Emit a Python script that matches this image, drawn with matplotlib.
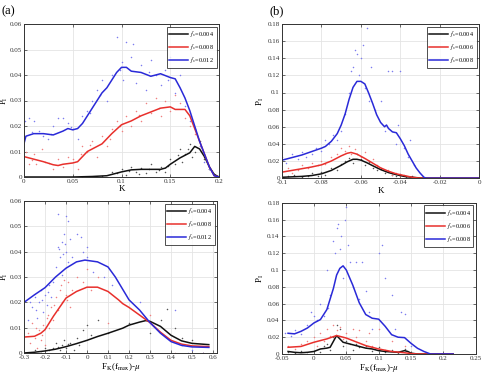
import matplotlib
matplotlib.use("Agg")
import matplotlib.pyplot as plt

plt.rcParams['font.family'] = ['Liberation Serif', 'DejaVu Serif']
plt.rcParams['mathtext.fontset'] = 'stix'

# ---------------- Panel (a) ----------------
a_labels = ['0.004', '0.008', '0.012']
a_k_x = [0, 0.05, 0.07, 0.085, 0.09, 0.1, 0.11, 0.12, 0.13, 0.14, 0.145, 0.15, 0.16, 0.17, 0.175, 0.18, 0.185, 0.19, 0.195, 0.2]
a_k_y = [0, 0, 0.0002, 0.0005, 0.001, 0.002, 0.0028, 0.003, 0.003, 0.003, 0.0035, 0.005, 0.0075, 0.0095, 0.012, 0.011, 0.008, 0.004, 0.001, 0]
a_r_x = [0, 0.005, 0.01, 0.02, 0.03, 0.035, 0.04, 0.05, 0.055, 0.06, 0.065, 0.07, 0.08, 0.09, 0.1, 0.11, 0.12, 0.13, 0.14, 0.15, 0.155, 0.16, 0.165, 0.17, 0.175, 0.18, 0.185, 0.19, 0.195, 0.2]
a_r_y = [0.008, 0.0075, 0.007, 0.006, 0.0048, 0.0045, 0.005, 0.0055, 0.006, 0.008, 0.010, 0.011, 0.013, 0.017, 0.0205, 0.022, 0.024, 0.0255, 0.027, 0.0275, 0.0265, 0.0265, 0.0265, 0.024, 0.019, 0.014, 0.009, 0.004, 0.0005, 0]
a_b_x = [0, 0.002, 0.01, 0.02, 0.03, 0.04, 0.045, 0.05, 0.055, 0.06, 0.065, 0.07, 0.075, 0.08, 0.085, 0.09, 0.095, 0.1, 0.105, 0.11, 0.12, 0.13, 0.14, 0.15, 0.155, 0.16, 0.165, 0.17, 0.175, 0.18, 0.185, 0.19, 0.195, 0.2]
a_b_y = [0.013, 0.016, 0.017, 0.017, 0.0165, 0.018, 0.019, 0.0185, 0.019, 0.021, 0.024, 0.027, 0.030, 0.033, 0.035, 0.038, 0.041, 0.043, 0.043, 0.0415, 0.041, 0.0395, 0.0405, 0.039, 0.0385, 0.035, 0.031, 0.026, 0.020, 0.014, 0.009, 0.004, 0.0005, 0]
a_ks_x = [0.06, 0.08, 0.09, 0.095, 0.1, 0.105, 0.11, 0.115, 0.12, 0.125, 0.13, 0.135, 0.14, 0.145, 0.15, 0.155, 0.16, 0.162, 0.165, 0.17, 0.172, 0.175, 0.18, 0.185, 0.19, 0.195, 0.108, 0.118, 0.128, 0.138, 0.148, 0.158, 0.168]
a_ks_y = [0.0, 0.0005, 0.002, 0.0015, 0.003, 0.0008, 0.004, 0.002, 0.0035, 0.0015, 0.005, 0.002, 0.004, 0.002, 0.007, 0.005, 0.011, 0.006, 0.009, 0.013, 0.008, 0.010, 0.014, 0.007, 0.003, 0.001, 0.0025, 0.001, 0.0032, 0.0028, 0.0045, 0.0085, 0.011]
a_rs_x = [0.002, 0.005, 0.01, 0.012, 0.018, 0.022, 0.03, 0.035, 0.04, 0.045, 0.05, 0.055, 0.06, 0.065, 0.07, 0.075, 0.08, 0.085, 0.09, 0.095, 0.1, 0.105, 0.11, 0.115, 0.12, 0.125, 0.13, 0.135, 0.14, 0.145, 0.15, 0.155, 0.16, 0.165, 0.17, 0.175, 0.18, 0.185, 0.19, 0.008, 0.026, 0.058, 0.068, 0.088, 0.098, 0.118, 0.138]
a_rs_y = [0.010, 0.005, 0.009, 0.005, 0.011, 0.006, 0.003, 0.007, 0.004, 0.008, 0.007, 0.003, 0.012, 0.010, 0.014, 0.008, 0.016, 0.012, 0.019, 0.022, 0.018, 0.024, 0.020, 0.026, 0.022, 0.029, 0.025, 0.031, 0.024, 0.030, 0.026, 0.032, 0.029, 0.023, 0.020, 0.017, 0.012, 0.008, 0.004, 0.0065, 0.0055, 0.009, 0.0125, 0.015, 0.020, 0.0245, 0.027]
a_bs_x = [0.001, 0.005, 0.01, 0.015, 0.02, 0.025, 0.03, 0.035, 0.04, 0.045, 0.05, 0.055, 0.06, 0.065, 0.07, 0.075, 0.08, 0.085, 0.09, 0.095, 0.1, 0.102, 0.105, 0.11, 0.112, 0.115, 0.12, 0.125, 0.13, 0.135, 0.14, 0.145, 0.15, 0.155, 0.16, 0.165, 0.17, 0.175, 0.18, 0.185, 0.19, 0.195, 0.198, 0.008, 0.028, 0.048, 0.068, 0.078, 0.098, 0.128, 0.148]
a_bs_y = [0.022, 0.023, 0.022, 0.018, 0.016, 0.015, 0.020, 0.023, 0.023, 0.021, 0.019, 0.015, 0.024, 0.026, 0.030, 0.034, 0.038, 0.030, 0.040, 0.055, 0.045, 0.038, 0.053, 0.047, 0.052, 0.037, 0.044, 0.034, 0.046, 0.040, 0.036, 0.042, 0.047, 0.033, 0.040, 0.028, 0.022, 0.019, 0.012, 0.006, 0.003, 0.001, 0.0, 0.0175, 0.017, 0.0195, 0.025, 0.032, 0.042, 0.041, 0.038]

# ---------------- Panel (b) ----------------
b_labels = ['0.004', '0.006', '0.008']
b_k_x = [-0.1, -0.09, -0.085, -0.08, -0.075, -0.07, -0.067, -0.064, -0.062, -0.06, -0.057, -0.054, -0.05, -0.046, -0.042, -0.038, -0.034, -0.03, -0.028, 0]
b_k_y = [0.001, 0.002, 0.003, 0.005, 0.009, 0.015, 0.019, 0.022, 0.022, 0.021, 0.018, 0.0145, 0.010, 0.0065, 0.004, 0.002, 0.001, 0.0002, 0, 0]
b_r_x = [-0.1, -0.095, -0.09, -0.085, -0.08, -0.075, -0.07, -0.067, -0.065, -0.062, -0.058, -0.054, -0.05, -0.046, -0.042, -0.038, -0.034, -0.031, -0.028, 0]
b_r_y = [0.007, 0.009, 0.011, 0.013, 0.0155, 0.020, 0.026, 0.029, 0.030, 0.028, 0.023, 0.0175, 0.012, 0.008, 0.005, 0.003, 0.001, 0.0002, 0, 0]
b_b_x = [-0.1, -0.095, -0.09, -0.085, -0.08, -0.078, -0.075, -0.072, -0.07, -0.068, -0.066, -0.064, -0.062, -0.06, -0.058, -0.056, -0.054, -0.052, -0.05, -0.048, -0.047, -0.046, -0.044, -0.042, -0.04, -0.038, -0.036, -0.034, -0.032, -0.03, -0.028, -0.027, 0]
b_b_y = [0.021, 0.024, 0.027, 0.031, 0.035, 0.037, 0.043, 0.052, 0.062, 0.075, 0.092, 0.106, 0.113, 0.113, 0.110, 0.099, 0.087, 0.074, 0.065, 0.060, 0.062, 0.058, 0.054, 0.053, 0.046, 0.038, 0.028, 0.020, 0.012, 0.006, 0.001, 0, 0]
b_ks_x = [-0.1, -0.097, -0.094, -0.09, -0.087, -0.085, -0.082, -0.08, -0.078, -0.075, -0.072, -0.07, -0.068, -0.066, -0.064, -0.062, -0.06, -0.058, -0.056, -0.054, -0.052, -0.05, -0.048, -0.046, -0.044, -0.042, -0.04, -0.037, -0.034]
b_ks_y = [0.0, 0.002, 0.004, 0.001, 0.003, 0.006, 0.002, 0.007, 0.004, 0.012, 0.009, 0.016, 0.020, 0.024, 0.018, 0.028, 0.022, 0.015, 0.019, 0.012, 0.009, 0.011, 0.006, 0.008, 0.004, 0.003, 0.005, 0.001, 0.002]
b_rs_x = [-0.1, -0.097, -0.095, -0.092, -0.09, -0.087, -0.085, -0.082, -0.08, -0.078, -0.075, -0.072, -0.07, -0.068, -0.066, -0.065, -0.063, -0.06, -0.058, -0.056, -0.054, -0.052, -0.05, -0.048, -0.046, -0.044, -0.042, -0.04, -0.038, -0.035]
b_rs_y = [0.008, 0.012, 0.006, 0.010, 0.015, 0.012, 0.018, 0.015, 0.020, 0.017, 0.025, 0.028, 0.035, 0.032, 0.038, 0.028, 0.034, 0.025, 0.030, 0.020, 0.022, 0.015, 0.012, 0.008, 0.010, 0.004, 0.006, 0.002, 0.004, 0.001]
b_bs_x = [-0.1, -0.098, -0.095, -0.092, -0.09, -0.088, -0.085, -0.083, -0.08, -0.078, -0.076, -0.074, -0.072, -0.07, -0.068, -0.066, -0.065, -0.064, -0.063, -0.062, -0.061, -0.06, -0.059, -0.058, -0.057, -0.056, -0.055, -0.053, -0.05, -0.048, -0.046, -0.044, -0.042, -0.041, -0.04, -0.038, -0.036, -0.035, -0.033]
b_bs_y = [0.025, 0.018, 0.028, 0.022, 0.030, 0.025, 0.028, 0.035, 0.032, 0.045, 0.040, 0.050, 0.045, 0.055, 0.075, 0.100, 0.125, 0.130, 0.150, 0.145, 0.120, 0.140, 0.155, 0.105, 0.175, 0.090, 0.130, 0.080, 0.090, 0.055, 0.125, 0.125, 0.040, 0.062, 0.125, 0.035, 0.025, 0.045, 0.015]

# ---------------- Panel (c) ----------------
c_k_x = [-0.3, -0.25, -0.2, -0.15, -0.1, -0.05, 0, 0.05, 0.1, 0.17, 0.2, 0.25, 0.28, 0.3, 0.35, 0.4, 0.45, 0.5, 0.58]
c_k_y = [0, 0.0003, 0.0008, 0.0015, 0.0025, 0.0037, 0.005, 0.0065, 0.0078, 0.0098, 0.011, 0.0122, 0.0128, 0.0125, 0.0105, 0.007, 0.0048, 0.0038, 0.0033]
c_r_x = [-0.3, -0.25, -0.22, -0.2, -0.16, -0.1, -0.05, 0, 0.05, 0.1, 0.15, 0.17, 0.2, 0.25, 0.3, 0.35, 0.4, 0.45, 0.5, 0.58]
c_r_y = [0.0063, 0.0066, 0.0078, 0.0092, 0.0145, 0.0217, 0.0243, 0.026, 0.026, 0.0243, 0.021, 0.0195, 0.018, 0.015, 0.012, 0.0082, 0.005, 0.0035, 0.0028, 0.0025]
c_b_x = [-0.3, -0.25, -0.2, -0.15, -0.1, -0.05, -0.01, 0.05, 0.1, 0.135, 0.2, 0.25, 0.3, 0.35, 0.4, 0.45, 0.5, 0.58]
c_b_y = [0.020, 0.023, 0.0258, 0.030, 0.0335, 0.036, 0.0367, 0.036, 0.034, 0.030, 0.021, 0.017, 0.012, 0.0078, 0.0045, 0.003, 0.0024, 0.0022]
c_ks_x = [-0.27, -0.25, -0.22, -0.2, -0.18, -0.16, -0.15, -0.13, -0.12, -0.11, -0.1, -0.08, -0.05, -0.02, 0.0, 0.02, 0.05, 0.1, 0.2, 0.3, 0.35, 0.38, 0.42, 0.45, 0.5, 0.55, -0.14, -0.09, -0.06, -0.04]
c_ks_y = [0.0, 0.001, 0.0, 0.002, 0.001, 0.002, 0.004, 0.001, 0.003, 0.005, 0.002, 0.004, 0.006, 0.009, 0.011, 0.007, 0.013, 0.008, 0.012, 0.008, 0.013, 0.0175, 0.010, 0.006, 0.005, 0.0, 0.0025, 0.0035, 0.001, 0.003]
c_rs_x = [-0.28, -0.27, -0.26, -0.25, -0.24, -0.23, -0.22, -0.21, -0.2, -0.19, -0.18, -0.17, -0.16, -0.15, -0.14, -0.13, -0.12, -0.11, -0.1, -0.09, -0.08, -0.07, -0.05, -0.02, 0.0, 0.02, 0.05, 0.1, 0.3, 0.42, 0.55, -0.245, -0.215, -0.185, -0.155, -0.125, -0.095]
c_rs_y = [0.008, 0.004, 0.012, 0.006, 0.002, 0.009, 0.005, 0.011, 0.003, 0.014, 0.010, 0.018, 0.013, 0.022, 0.017, 0.025, 0.020, 0.029, 0.023, 0.028, 0.018, 0.025, 0.030, 0.028, 0.033, 0.025, 0.030, 0.012, 0.015, 0.0, 0.0, 0.010, 0.007, 0.015, 0.019, 0.027, 0.021]
c_bs_x = [-0.28, -0.27, -0.26, -0.25, -0.24, -0.23, -0.22, -0.21, -0.2, -0.19, -0.18, -0.17, -0.16, -0.15, -0.14, -0.14, -0.13, -0.12, -0.12, -0.11, -0.1, -0.1, -0.09, -0.09, -0.08, -0.07, -0.05, -0.03, -0.02, 0.0, 0.0, 0.03, 0.08, 0.12, 0.25, 0.42, 0.45, 0.48, 0.5, 0.55, -0.245, -0.215, -0.185, -0.135, -0.115, -0.105]
c_bs_y = [0.013, 0.020, 0.018, 0.022, 0.014, 0.020, 0.025, 0.016, 0.023, 0.019, 0.027, 0.022, 0.028, 0.034, 0.042, 0.055, 0.038, 0.044, 0.031, 0.047, 0.040, 0.054, 0.052, 0.036, 0.045, 0.038, 0.047, 0.046, 0.040, 0.042, 0.038, 0.032, 0.030, 0.027, 0.020, 0.017, 0.003, 0.0, 0.001, 0.0, 0.017, 0.021, 0.024, 0.041, 0.039, 0.043]

# ---------------- Panel (d) ----------------
d_k_x = [-0.04, -0.03, -0.02, -0.01, 0, 0.01, 0.02, 0.025, 0.03, 0.035, 0.04, 0.045, 0.05, 0.06, 0.07, 0.08, 0.09, 0.1, 0.11, 0.12, 0.13, 0.14, 0.145, 0.15, 0.16, 0.215]
d_k_y = [0.003, 0.002, 0.0015, 0.002, 0.003, 0.006, 0.007, 0.008, 0.015, 0.022, 0.018, 0.014, 0.013, 0.011, 0.009, 0.007, 0.006, 0.004, 0.003, 0.0025, 0.002, 0.004, 0.003, 0.001, 0, 0]
d_r_x = [-0.04, -0.02, 0, 0.02, 0.035, 0.04, 0.05, 0.06, 0.08, 0.1, 0.12, 0.14, 0.15, 0.16, 0.215]
d_r_y = [0.008, 0.009, 0.014, 0.018, 0.022, 0.021, 0.019, 0.016, 0.010, 0.006, 0.003, 0.0015, 0.0005, 0, 0]
d_b_x = [-0.04, -0.03, -0.02, -0.01, 0, 0.01, 0.02, 0.03, 0.035, 0.04, 0.045, 0.05, 0.06, 0.07, 0.08, 0.09, 0.1, 0.11, 0.12, 0.13, 0.14, 0.15, 0.16, 0.17, 0.18, 0.215]
d_b_y = [0.0247, 0.024, 0.027, 0.031, 0.037, 0.041, 0.053, 0.078, 0.094, 0.102, 0.105, 0.100, 0.082, 0.061, 0.047, 0.0426, 0.0415, 0.033, 0.023, 0.020, 0.0195, 0.0127, 0.0068, 0.003, 0, 0]
d_ks_x = [-0.04, -0.03, -0.02, -0.01, 0.0, 0.01, 0.015, 0.02, 0.025, 0.03, 0.035, 0.04, 0.045, 0.05, 0.06, 0.065, 0.07, 0.08, 0.09, 0.1, 0.11, 0.12, 0.13, 0.14]
d_ks_y = [0.002, 0.001, 0.003, 0.0, 0.004, 0.002, 0.010, 0.012, 0.005, 0.020, 0.035, 0.030, 0.010, 0.015, 0.005, 0.012, 0.008, 0.010, 0.004, 0.008, 0.002, 0.005, 0.001, 0.006]
d_rs_x = [-0.04, -0.03, -0.02, -0.01, 0.0, 0.005, 0.01, 0.015, 0.02, 0.025, 0.03, 0.035, 0.04, 0.045, 0.05, 0.055, 0.06, 0.065, 0.07, 0.08, 0.085, 0.09, 0.1, 0.11, 0.12, 0.13, 0.14]
d_rs_y = [0.010, 0.006, 0.012, 0.015, 0.020, 0.010, 0.025, 0.015, 0.030, 0.022, 0.035, 0.028, 0.032, 0.018, 0.025, 0.012, 0.030, 0.020, 0.028, 0.015, 0.025, 0.010, 0.030, 0.005, 0.015, 0.002, 0.010]
d_bs_x = [-0.045, -0.035, -0.03, -0.02, -0.01, -0.005, 0.0, 0.005, 0.01, 0.015, 0.02, 0.022, 0.025, 0.03, 0.032, 0.035, 0.037, 0.04, 0.042, 0.045, 0.048, 0.05, 0.052, 0.055, 0.06, 0.065, 0.07, 0.075, 0.08, 0.085, 0.09, 0.1, 0.105, 0.11, 0.12, 0.125, 0.135, 0.14, 0.15, 0.2]
d_bs_y = [0.025, 0.022, 0.028, 0.024, 0.035, 0.050, 0.045, 0.040, 0.060, 0.045, 0.100, 0.055, 0.070, 0.135, 0.120, 0.150, 0.155, 0.125, 0.140, 0.090, 0.160, 0.175, 0.130, 0.110, 0.080, 0.110, 0.065, 0.110, 0.075, 0.050, 0.030, 0.120, 0.130, 0.090, 0.070, 0.030, 0.050, 0.048, 0.010, 0.0]

COL_K = '#111111'
COL_R = '#e8302c'
COL_B = '#2a2ad8'
SC_K = '#555555'
SC_R = '#f08080'
SC_B = '#7c7cf0'

fig = plt.figure(figsize=(4.83, 3.75), dpi=100)

def style(ax, xlim, ylim, xticks, yticks):
    ax.set_xlim(*xlim)
    ax.set_ylim(*ylim)
    ax.set_xticks(xticks)
    ax.set_yticks(yticks)
    ax.set_xticklabels(['%g' % v for v in xticks])
    ax.set_yticklabels(['%g' % v for v in yticks])
    ax.grid(True, color='#e4e4e4', linewidth=0.6)
    ax.set_axisbelow(True)
    ax.tick_params(direction='in', length=2, width=0.5, labelsize=5, pad=1.5,
                   top=True, right=True, colors='#333333')
    for s in ax.spines.values():
        s.set_linewidth(0.7)
        s.set_color('#333333')

def panel(rect, ks, rs, bs, kl, rl, bl, labels):
    ax = fig.add_axes(rect)
    ax.plot(ks[0], ks[1], 'o', ms=1.1, mew=0, color=SC_K)
    ax.plot(rs[0], rs[1], 'o', ms=1.1, mew=0, color=SC_R)
    ax.plot(bs[0], bs[1], 'o', ms=1.1, mew=0, color=SC_B)
    hk, = ax.plot(kl[0], kl[1], color=COL_K, lw=1.1)
    hr, = ax.plot(rl[0], rl[1], color=COL_R, lw=1.1)
    hb, = ax.plot(bl[0], bl[1], color=COL_B, lw=1.1)
    leg = ax.legend([hk, hr, hb], [r'$f_s$=' + l for l in labels], loc='upper right',
                    fontsize=4.5, frameon=True, fancybox=False, edgecolor='#222222',
                    handlelength=3.0, handletextpad=0.3, borderpad=0.4, labelspacing=0.5,
                    borderaxespad=0.4)
    leg.get_frame().set_linewidth(0.7)
    return ax

ylab = r'P$_\mathrm{I}$'
fxlab = r'F$_\mathrm{K}$(f$_\mathrm{max}$)-$\mu$'

ax_a = panel([0.0496, 0.528, 0.404, 0.408], (a_ks_x, a_ks_y), (a_rs_x, a_rs_y), (a_bs_x, a_bs_y),
             (a_k_x, a_k_y), (a_r_x, a_r_y), (a_b_x, a_b_y), a_labels)
style(ax_a, (0, 0.2), (0, 0.06), [0, 0.05, 0.1, 0.15, 0.2], [0, 0.01, 0.02, 0.03, 0.04, 0.05, 0.06])
ax_a.set_xlabel('K', fontsize=6.5, labelpad=1)
ax_a.set_ylabel(ylab, fontsize=6)
ax_a.yaxis.set_label_coords(-0.072, 0.5)

ax_b = panel([0.584, 0.525, 0.408, 0.411], (b_ks_x, b_ks_y), (b_rs_x, b_rs_y), (b_bs_x, b_bs_y),
             (b_k_x, b_k_y), (b_r_x, b_r_y), (b_b_x, b_b_y), b_labels)
style(ax_b, (-0.1, 0), (0, 0.18), [-0.1, -0.08, -0.06, -0.04, -0.02, 0],
      [0, 0.02, 0.04, 0.06, 0.08, 0.1, 0.12, 0.14, 0.16, 0.18])
ax_b.set_xlabel('K', fontsize=6.5, labelpad=1)
ax_b.set_ylabel(ylab, fontsize=6.5, labelpad=1)

ax_c = panel([0.0497, 0.0587, 0.4, 0.405], (c_ks_x, c_ks_y), (c_rs_x, c_rs_y), (c_bs_x, c_bs_y),
             (c_k_x, c_k_y), (c_r_x, c_r_y), (c_b_x, c_b_y), a_labels)
style(ax_c, (-0.3, 0.62), (0, 0.06), [-0.3, -0.2, -0.1, 0, 0.1, 0.2, 0.3, 0.4, 0.5, 0.6],
      [0, 0.01, 0.02, 0.03, 0.04, 0.05, 0.06])
ax_c.set_xlabel(fxlab, fontsize=6.5, labelpad=1)
ax_c.set_ylabel(ylab, fontsize=6)
ax_c.yaxis.set_label_coords(-0.072, 0.5)

ax_d = panel([0.583, 0.056, 0.402, 0.403], (d_ks_x, d_ks_y), (d_rs_x, d_rs_y), (d_bs_x, d_bs_y),
             (d_k_x, d_k_y), (d_r_x, d_r_y), (d_b_x, d_b_y), b_labels)
style(ax_d, (-0.05, 0.25), (0, 0.18), [-0.05, 0, 0.05, 0.1, 0.15, 0.2, 0.25],
      [0, 0.02, 0.04, 0.06, 0.08, 0.1, 0.12, 0.14, 0.16, 0.18])
ax_d.set_xlabel(fxlab, fontsize=6.5, labelpad=1)
ax_d.set_ylabel(ylab, fontsize=6.5, labelpad=1)

fig.text(0.004, 0.962, '(a)', fontsize=9)
fig.text(0.557, 0.962, '(b)', fontsize=9)

fig.savefig('out.png', dpi=100)
